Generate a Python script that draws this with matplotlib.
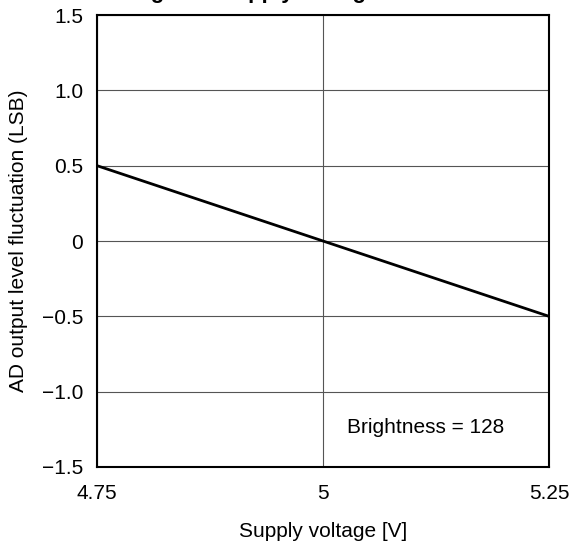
import matplotlib.pyplot as plt

plt.rcParams['font.family'] = ['Liberation Sans', 'DejaVu Sans']

# data
voltage = [4.75, 5.25]
fluctuation = [0.5, -0.5]
x_ticks = [4.75, 5.0, 5.25]
x_labels = ['4.75', '5', '5.25']
y_ticks = [-1.5, -1.0, -0.5, 0, 0.5, 1.0, 1.5]
y_labels = ['\u22121.5', '\u22121.0', '\u22120.5', '0', '0.5', '1.0', '1.5']

fig = plt.figure(figsize=(5.72, 5.42), dpi=100)
ax = fig.add_axes([0.1696, 0.1384, 0.7902, 0.8339])

ax.plot(voltage, fluctuation, color='black', lw=2)

ax.set_xlim(4.75, 5.25)
ax.set_ylim(-1.5, 1.5)
ax.set_xticks(x_ticks)
ax.set_xticklabels(x_labels, fontsize=15)
ax.set_yticks(y_ticks)
ax.set_yticklabels(y_labels, fontsize=15)
ax.tick_params(length=0, pad=10)
ax.tick_params(axis='x', pad=12)
ax.grid(True, color='#555555', lw=0.8)
for s in ax.spines.values():
    s.set_linewidth(1.5)

ax.set_xlabel('Supply voltage [V]', fontsize=15, labelpad=14)
ax.set_ylabel('AD output level fluctuation (LSB)', fontsize=15, labelpad=10)

ax.text(5.2, -1.235, 'Brightness = 128', fontsize=15, ha='right', va='center')

# title is cut off at the top edge in the reference
fig.text(0.416, 1.003, 'Voltage vs. Supply Voltage', fontsize=16,
         fontweight='bold', ha='center', va='baseline')

fig.savefig('out.png', dpi=100)
